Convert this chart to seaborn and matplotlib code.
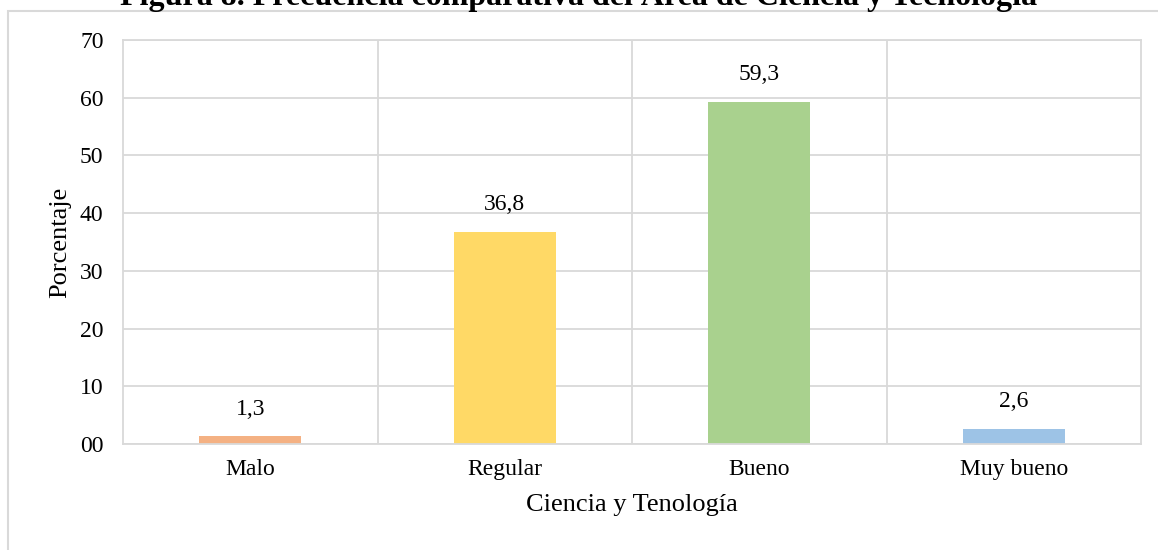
import matplotlib
matplotlib.use("Agg")
import matplotlib.pyplot as plt
import seaborn as sns
import pandas as pd
from matplotlib.patches import Rectangle

categories = ["Malo", "Regular", "Bueno", "Muy bueno"]
values = [1.3, 36.8, 59.3, 2.6]
value_labels = ["1,3", "36,8", "59,3", "2,6"]
colors = ["#F4B183", "#FFD966", "#A9D18E", "#9DC3E6"]
yticks = [0, 10, 20, 30, 40, 50, 60, 70]
ytick_labels = ["00", "10", "20", "30", "40", "50", "60", "70"]
title = "Figura 8. Frecuencia comparativa del Área de Ciencia y Tecnología"
xlabel = "Ciencia y Tenología"
ylabel = "Porcentaje"

sns.set_theme(style="white")
plt.rcParams["font.family"] = ["Liberation Serif", "DejaVu Serif"]
plt.rcParams["text.color"] = "black"
plt.rcParams["axes.labelcolor"] = "black"
plt.rcParams["xtick.color"] = "black"
plt.rcParams["ytick.color"] = "black"

df = pd.DataFrame({"cat": categories, "val": values})

fig = plt.figure(figsize=(11.58, 5.5), dpi=100)
grid_c = "#d9d9d9"

# outer chart frame (clipped by figure edges)
fig.patches.append(Rectangle((8 / 1158, -0.1), 1.2, 1 - 11 / 550 + 0.1,
                             transform=fig.transFigure, fill=False,
                             edgecolor=grid_c, linewidth=1.5, zorder=0))

ax = fig.add_axes([123 / 1158, 1 - 444 / 550, (1141 - 123) / 1158, (444 - 40) / 550])
sns.barplot(data=df, x="cat", y="val", hue="cat", palette=colors,
            width=0.4, legend=False, ax=ax, saturation=1, linewidth=0)

ax.set_ylim(0, 70)
ax.set_xlim(-0.5, 3.5)
ax.set_yticks(yticks)
ax.set_yticklabels(ytick_labels, fontsize=17)
ax.set_xticks(range(len(categories)))
ax.set_xticklabels(categories, fontsize=17)
ax.set_xticks([0.5, 1.5, 2.5], minor=True)
ax.tick_params(axis="both", which="both", length=0, colors="black")
ax.tick_params(axis="y", pad=14)
ax.tick_params(axis="x", pad=11)
ax.yaxis.grid(True, color=grid_c, linewidth=1.3)
ax.xaxis.grid(True, which="minor", color=grid_c, linewidth=1.3)
ax.set_axisbelow(True)
for s in ax.spines.values():
    s.set_color(grid_c)
    s.set_linewidth(1.3)

for i, (v, lab) in enumerate(zip(values, value_labels)):
    ax.annotate(lab, (i, v), xytext=(0, 12), textcoords="offset points",
                ha="center", va="bottom", fontsize=17, color="black")

ax.set_xlabel(xlabel, fontsize=19, labelpad=10, color="black")
ax.set_ylabel(ylabel, fontsize=19, labelpad=6, color="black")

fig.text(0.5, 1 - 5.5 / 550, title, ha="center", va="baseline",
         fontsize=23, fontweight="bold", color="black")

fig.savefig("out.png", dpi=100)
